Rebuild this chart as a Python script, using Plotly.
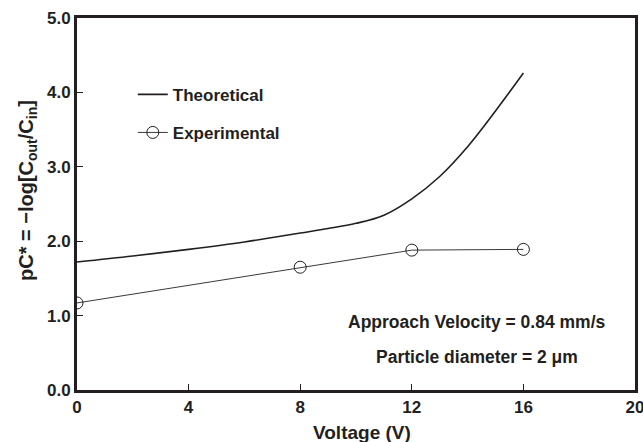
import plotly.graph_objects as go

# Data
theory_v = [0, 2, 4, 6, 8, 9, 10, 11, 12, 13, 14, 15, 16]
theory_pc = [1.72, 1.80, 1.89, 1.99, 2.11, 2.17, 2.24, 2.35, 2.57, 2.87, 3.27, 3.75, 4.26]
exp_v = [0, 8, 12, 16]
exp_pc = [1.17, 1.65, 1.88, 1.89]
x_ticks = [0, 4, 8, 12, 16, 20]
y_ticks = [0, 1, 2, 3, 4, 5]
y_tick_labels = ["0.0", "1.0", "2.0", "3.0", "4.0", "5.0"]

INK = "#231f20"
FONT = "Liberation Sans, Arial, sans-serif"

fig = go.Figure()
fig.add_trace(go.Scatter(
    x=theory_v, y=theory_pc, mode="lines", name="<b>Theoretical</b>", legendgroup="t",
    line=dict(color=INK, width=1.6, shape="spline", smoothing=1.0),
))
fig.add_trace(go.Scatter(
    x=exp_v, y=exp_pc, mode="lines+markers", name="<b>Experimental</b>", legendgroup="e",
    line=dict(color="#3a3a3a", width=1),
    marker=dict(symbol="circle-open", size=12, color=INK, line=dict(width=1, color=INK)),
))

fig.update_layout(
    width=643, height=442,
    margin=dict(l=77, r=8, t=18, b=52),
    paper_bgcolor="white", plot_bgcolor="white",
    font=dict(family=FONT, size=17, color=INK),
    showlegend=True,
    legend=dict(
        x=0.1, y=0.842, xanchor="left", yanchor="top",
        bgcolor="rgba(0,0,0,0)", borderwidth=0,
        font=dict(family=FONT, size=17, color=INK),
        tracegroupgap=13, itemwidth=30,
    ),
    xaxis=dict(
        range=[0, 20], tickvals=x_ticks, ticktext=[f"<b>{v}</b>" for v in x_ticks],
        ticks="inside", ticklen=6, tickwidth=1, tickcolor=INK,
        showline=True, linecolor=INK, linewidth=3, mirror=True,
        showgrid=False, zeroline=False, automargin=False, ticklabeloverflow="allow",
        tickfont=dict(family=FONT, size=17, color=INK),
    ),
    yaxis=dict(
        range=[0, 5], tickvals=y_ticks, ticktext=[f"<b>{t}</b>" for t in y_tick_labels],
        ticks="inside", ticklen=6, tickwidth=1, tickcolor=INK,
        showline=True, linecolor=INK, linewidth=3, mirror=True,
        showgrid=False, zeroline=False, automargin=False, ticklabeloverflow="allow",
        tickfont=dict(family=FONT, size=17, color=INK),
    ),
)

# Axis titles
fig.add_annotation(x=(362 - 77) / 558, y=(390 - 433) / 372, xref="paper", yref="paper",
                   showarrow=False, xanchor="center", yanchor="middle",
                   text="<b>Voltage (V)</b>", font=dict(family=FONT, size=19, color=INK))
fig.add_annotation(x=(27 - 77) / 558, y=(390 - 191) / 372, xref="paper", yref="paper",
                   showarrow=False, textangle=-90, xanchor="center", yanchor="middle",
                   text="<b>pC* = −log[C<sub>out</sub>/C<sub>in</sub>]</b>",
                   font=dict(family=FONT, size=20, color=INK))

fig.add_annotation(x=(477 - 77) / 558, y=(390 - 322) / 372, xref="paper", yref="paper",
                   showarrow=False, xanchor="center", yanchor="middle",
                   text="<b>Approach Velocity = 0.84 mm/s</b>",
                   font=dict(family=FONT, size=17.5, color=INK))
fig.add_annotation(x=(477 - 77) / 558, y=(390 - 357) / 372, xref="paper", yref="paper",
                   showarrow=False, xanchor="center", yanchor="middle",
                   text="<b>Particle diameter = 2 μm</b>",
                   font=dict(family=FONT, size=17.5, color=INK))

fig.write_html("out.html", config={"displayModeBar": False},
               post_script="document.body.style.margin='0';")
